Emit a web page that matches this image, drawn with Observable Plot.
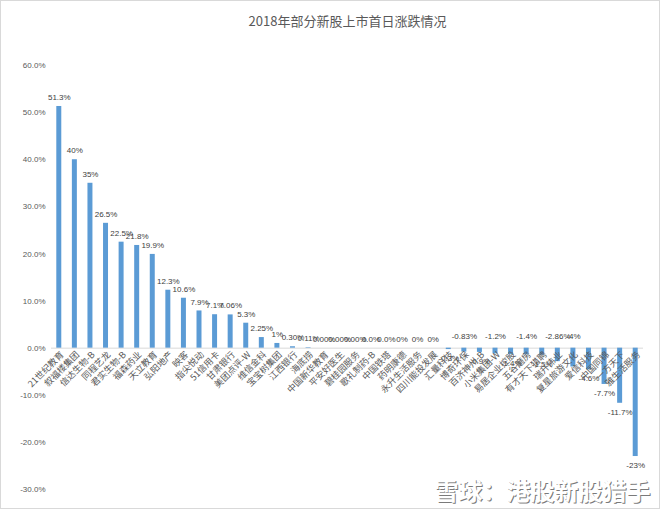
<!DOCTYPE html>
<html>
<head>
<meta charset="utf-8">
<script src="https://cdn.jsdelivr.net/npm/d3@7"></script>
<script src="https://cdn.jsdelivr.net/npm/@observablehq/plot@0.6"></script>
<style>
  html, body { margin: 0; padding: 0; background: #fff; }
  #chart svg { display: block; outline: 1px solid #d9d9d9; outline-offset: -1px; }
</style>
</head>
<body>
<div id="chart"></div>
<script>
const title = "2018年部分新股上市首日涨跌情况";
const watermark = "雪球：港股新股猎手";

const names = [
  "21世纪教育", "叙福楼集团", "信达生物-B", "同程艺龙", "君实生物-B", "福森药业",
  "天立教育", "弘阳地产", "映客", "指尖悦动", "51信用卡", "甘肃银行",
  "美团点评-W", "维信金科", "宝宝树集团", "江西银行", "海底捞", "中国新华教育",
  "平安好医生", "碧桂园服务", "歌礼制药-B", "中国铁塔", "药明康德", "永升生活服务",
  "四川能投发展", "汇量科技", "博奇环保", "百济神州-B", "小米集团-W", "易居企业控股",
  "五谷磨房", "有才天下猎聘", "瑞升伟业", "复星旅游文化", "爱信科技", "中国同锦",
  "一方天下", "雅生活服务"
];

const values = [
  51.3, 40, 35, 26.5, 22.5, 21.8,
  19.9, 12.3, 10.6, 7.9, 7.1, 7.06,
  5.3, 2.25, 1, 0.30, 0.11, 0,
  0, 0, 0, 0, 0, 0,
  0, -0.3, -0.83, -0.9, -1.2, -1.4,
  -1.4, -1.5, -2.86, -4, -4.6, -7.7,
  -11.7, -23
];

const valueLabels = [
  "51.3%", "40%", "35%", "26.5%", "22.5%", "21.8%",
  "19.9%", "12.3%", "10.6%", "7.9%", "7.1%", "7.06%",
  "5.3%", "2.25%", "1%", "0.30%", "0.11%", "0.00%",
  "0.00%", "0.00%", "0.0%", "0.0%", "0%", "0%",
  "0%", "-0.3%", "-0.83%", "-0.9%", "-1.2%", "-1.4%",
  "-1.4%", "-1.5%", "-2.86%", "-4%", "-4.6%", "-7.7%",
  "-11.7%", "-23%"
];

const yTicks = [-30, -20, -10, 0, 10, 20, 30, 40, 50, 60];

const data = names.map((name, i) => ({ name, value: values[i], label: valueLabels[i], i }));
const pos = data.filter(d => d.value >= 0);
// small negative labels alternate: some sit above the zero line, others below the bar end
const negAbove = data.filter(d => d.value < 0 && d.value > -4.5 && !(d.i % 2 === 1 && d.value > -2));
const negBelow = data.filter(d => d.value < 0 && !negAbove.includes(d));

const numFont = "'Liberation Sans', 'Noto Sans CJK SC', sans-serif";
const cjkFont = "'Noto Sans CJK SC', sans-serif";
const valSize = 8;

const chart = Plot.plot({
  width: 660,
  height: 509,
  marginTop: 65,
  marginBottom: 20,
  marginLeft: 51,
  marginRight: 17,
  style: { fontFamily: numFont, fontSize: "8px", background: "#fff" },
  x: { domain: names, paddingInner: 0.68, paddingOuter: 0.34, round: false, axis: null },
  y: { domain: [-30, 60], axis: null },
  marks: [
    Plot.ruleY([0], { stroke: "#d9d9d9", strokeWidth: 1 }),
    Plot.barY(data, { x: "name", y: "value", fill: "#5B9BD5" }),
    Plot.text(pos, { x: "name", y: "value", text: "label", dy: -9, fill: "#404040", fontSize: valSize, fontFamily: numFont }),
    Plot.text(negAbove, { x: "name", y: d => 0, text: "label", dy: -12, fill: "#404040", fontSize: valSize, fontFamily: numFont }),
    Plot.text(negBelow, { x: "name", y: "value", text: "label", dy: 9, fill: "#404040", fontSize: valSize, fontFamily: numFont }),
    Plot.text(data, {
      x: "name", y: d => 0, text: "name", rotate: -45, textAnchor: "end",
      dx: 3, dy: 5, fill: "#595959", fontSize: 9, fontFamily: cjkFont
    }),
    Plot.axisY(yTicks, {
      tickSize: 0, tickPadding: 6, tickFormat: d => d.toFixed(1) + "%",
      fill: "#595959", fontSize: 8, label: null
    }),
    Plot.text([title], {
      frameAnchor: "top", dy: -49, fill: "#595959", fontSize: 13, fontFamily: cjkFont
    }),
    Plot.text([watermark], {
      frameAnchor: "bottom-right", textAnchor: "end", lineAnchor: "middle", dx: 8, dy: 4,
      fill: "#7a7a7a", fontSize: 24, fontWeight: "bold", fontFamily: cjkFont
    }),
    Plot.text([watermark], {
      frameAnchor: "bottom-right", textAnchor: "end", lineAnchor: "middle", dx: 7, dy: 3,
      fill: "#ffffff", fontSize: 24, fontWeight: "bold", fontFamily: cjkFont
    })
  ]
});

document.getElementById("chart").appendChild(chart);
</script>
</body>
</html>
